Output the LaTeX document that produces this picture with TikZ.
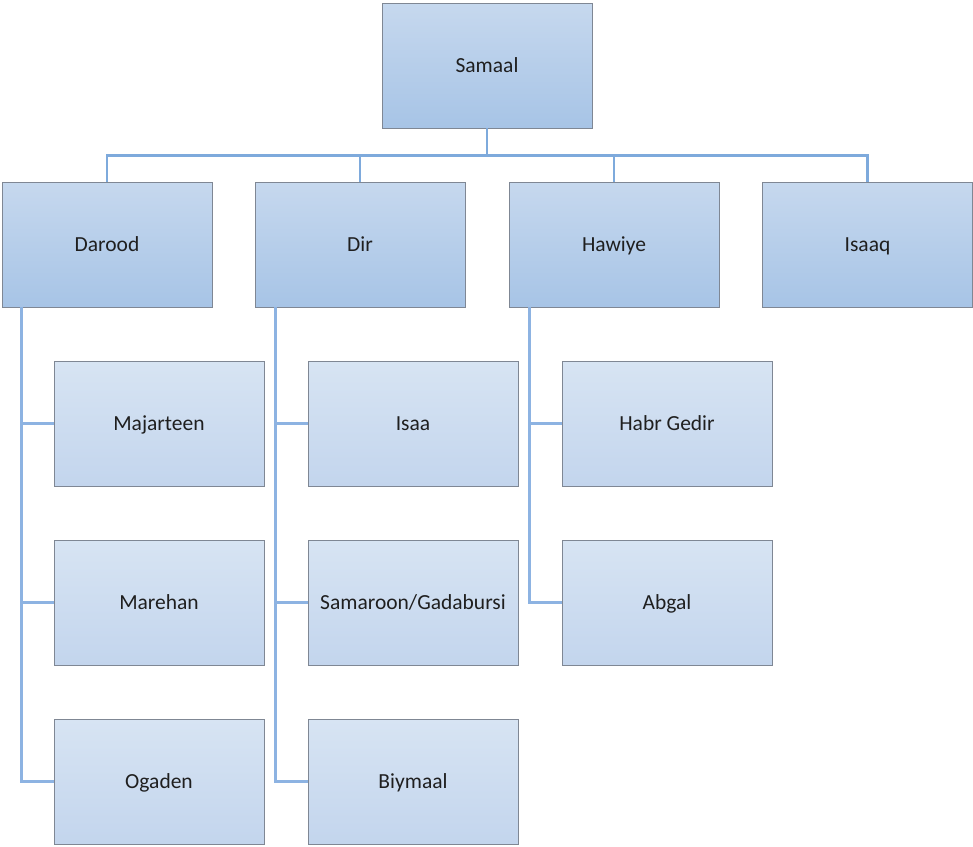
\documentclass[tikz,border=0pt]{standalone}
\usepackage{fontspec}
\setmainfont{Carlito}
\definecolor{linec}{HTML}{8DB3E2}
\definecolor{busc}{HTML}{7EAADC}
\definecolor{edge}{HTML}{7F8794}
\definecolor{txt}{HTML}{1F1F1F}
\definecolor{topA}{HTML}{C6D8EE}
\definecolor{botA}{HTML}{A7C4E6}
\definecolor{topB}{HTML}{D7E4F3}
\definecolor{botB}{HTML}{C3D5ED}
\tikzset{
  boxA/.style={rectangle, draw=edge, line width=0.9pt, top color=topA, bottom color=botA,
    minimum width=210pt, minimum height=125pt, inner sep=0pt, text=txt,
    text height=17pt, text depth=3pt,
    font=\fontsize{21.5}{24}\selectfont},
  boxB/.style={boxA, top color=topB, bottom color=botB},
  link/.style={draw=linec, line width=2.5pt},
  bus/.style={draw=busc, line width=2.8pt}
}
\begin{document}
\begin{tikzpicture}[x=1pt,y=-1pt]
\useasboundingbox (0,0) rectangle (973,846);
\node[boxA] (samaal) at (487,65.5) {Samaal};
\node[boxA] (darood) at (107,244.5) {Darood};
\node[boxA] (dir) at (360,244.5) {Dir};
\node[boxA] (hawiye) at (614,244.5) {Hawiye};
\node[boxA] (isaaq) at (867.5,244.5) {Isaaq};

\node[boxB] (majarteen) at (159,423.5) {Majarteen};
\node[boxB] (marehan) at (159,602.5) {Marehan};
\node[boxB] (ogaden) at (159,781.5) {Ogaden};
\node[boxB] (isaa) at (413,423.5) {Isaa};
\node[boxB] (samaroon) at (413,602.5) {Samaroon/Gadabursi};
\node[boxB] (biymaal) at (413,781.5) {Biymaal};
\node[boxB] (habr) at (667,423.5) {Habr Gedir};
\node[boxB] (abgal) at (667,602.5) {Abgal};

\draw[bus] (samaal.south) -- ++(0,27) -| (darood.north);
\draw[bus] (samaal.south) -- ++(0,27) -| (dir.north);
\draw[bus] (samaal.south) -- ++(0,27) -| (hawiye.north);
\draw[bus] (samaal.south) -- ++(0,27) -| (isaaq.north);

\draw[link] ([xshift=20pt]darood.south west) |- (majarteen.west);
\draw[link] ([xshift=20pt]darood.south west) |- (marehan.west);
\draw[link] ([xshift=20pt]darood.south west) |- (ogaden.west);
\draw[link] ([xshift=21pt]dir.south west) |- (isaa.west);
\draw[link] ([xshift=21pt]dir.south west) |- (samaroon.west);
\draw[link] ([xshift=21pt]dir.south west) |- (biymaal.west);
\draw[link] ([xshift=21pt]hawiye.south west) |- (habr.west);
\draw[link] ([xshift=21pt]hawiye.south west) |- (abgal.west);
\end{tikzpicture}
\end{document}
